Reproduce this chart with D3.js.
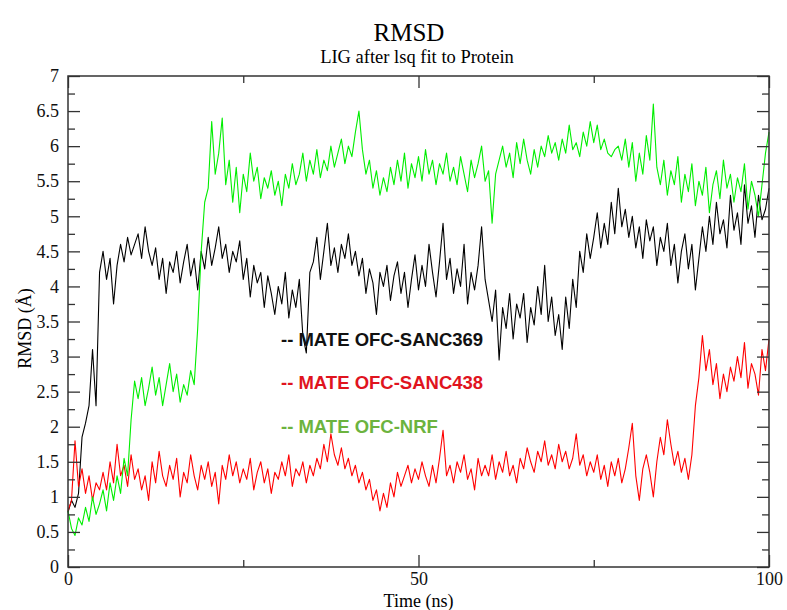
<!DOCTYPE html>
<html>
<head>
<meta charset="utf-8">
<script src="https://cdn.jsdelivr.net/npm/d3@7"></script>
<style>
  body { margin: 0; background: #fff; }
  svg { display: block; }
  .tick text { font-family: "Liberation Serif", "Times New Roman", serif; font-size: 18px; fill: #111; }
  .tick line { stroke: #333; stroke-width: 1.3; }
</style>
</head>
<body>
<svg class="rmsd"></svg>
<script>
// RMSD of ligand, one sample every 0.5 ns (0 .. 100 ns)
var timeStep = 0.5;

var sanc369 = [
    0.78, 0.95, 0.85, 1.05, 1.85, 2.05, 2.3, 3.1, 2.3, 4.2,
    4.5, 4.1, 4.4, 3.75, 4.3, 4.6, 4.35, 4.7, 4.45, 4.6,
    4.75, 4.4, 4.85, 4.5, 4.3, 4.55, 4.1, 4.4, 3.9, 4.35,
    4.2, 4.5, 4.05, 4.35, 4.6, 4.15, 4.4, 3.95, 4.5, 4.25,
    4.7, 4.3, 4.55, 4.85, 4.4, 4.6, 4.2, 4.5, 4.35, 4.65,
    4.1, 4.4, 3.85, 4.3, 4.05, 4.2, 3.7, 4.15, 3.9, 3.6,
    4.0, 3.75, 4.2, 3.55, 3.95, 3.7, 4.1, 3.3, 3.05, 4.2,
    4.35, 4.7, 4.1, 4.5, 4.9, 4.3, 4.55, 4.2, 4.6, 4.4,
    4.75, 4.3, 4.5, 4.15, 4.4, 3.9, 4.25, 4.05, 3.6, 4.2,
    4.0, 4.3, 3.8, 4.15, 4.35, 3.9, 4.2, 3.7, 4.1, 4.45,
    3.95, 4.3, 4.0, 4.6, 4.2, 3.85, 4.35, 4.9, 4.1, 4.4,
    3.9, 4.25, 4.0, 4.6, 3.75, 4.2, 3.95, 4.3, 4.85, 4.1,
    3.8, 3.5, 3.95, 2.95, 3.7, 3.4, 3.9, 3.25, 3.75, 3.55,
    3.9, 3.2, 3.7, 3.45, 4.0, 3.6, 4.3, 3.5, 3.85, 3.3,
    3.6, 3.1, 3.85, 3.4, 4.1, 3.7, 4.5, 4.2, 4.75, 4.4,
    4.7, 5.05, 4.55, 4.9, 4.6, 5.2, 4.75, 5.4, 4.85, 5.1,
    4.7, 5.0, 4.55, 4.85, 4.4, 4.95, 4.65, 4.85, 4.3, 4.7,
    4.5, 4.9, 4.3, 4.6, 4.05, 4.5, 4.75, 4.25, 4.6, 3.95,
    4.4, 4.85, 4.5, 5.0, 4.6, 5.2, 4.75, 4.95, 4.55, 5.3,
    4.8, 5.05, 4.6, 5.45, 4.9, 5.15, 4.7, 5.3, 4.95, 5.1, 5.4
];

var sanc438 = [
    0.8, 0.95, 1.8, 1.15, 1.4, 1.05, 1.3, 0.95, 1.2, 1.1,
    1.35, 1.1, 1.5, 1.2, 1.75, 1.3, 1.45, 1.15, 1.6, 1.25,
    1.4, 1.1, 1.3, 0.95, 1.5, 1.2, 1.65, 1.3, 1.15, 1.45,
    1.25, 1.55, 1.0, 1.35, 1.2, 1.6, 1.3, 1.1, 1.45, 1.25,
    1.5, 1.15, 1.35, 0.9, 1.45, 1.25, 1.6, 1.3, 1.5, 1.2,
    1.4, 1.25, 1.55, 1.1, 1.35, 1.5, 1.2, 1.4, 1.05, 1.35,
    1.25, 1.5, 1.3, 1.6, 1.15, 1.4, 1.3, 1.5, 1.2, 1.45,
    1.3, 1.55, 1.4, 1.75, 1.5, 1.9, 1.6, 1.45, 1.7, 1.4,
    1.55, 1.3, 1.45, 1.2, 1.35, 1.1, 1.25, 0.95, 1.1, 0.8,
    1.05, 0.85, 1.2, 1.0, 1.35, 1.15, 1.3, 1.45, 1.2, 1.4,
    1.25, 1.5, 1.3, 1.15, 1.45, 1.2, 1.55, 1.95, 1.3, 1.45,
    1.2, 1.5, 1.35, 1.6, 1.25, 1.4, 1.1, 1.55, 1.3, 1.45,
    1.3, 1.6, 1.25, 1.5, 1.35, 1.65, 1.3, 1.45, 1.2, 1.55,
    1.4, 1.7, 1.5, 1.35, 1.65, 1.5, 1.8, 1.45, 1.6, 1.4,
    1.75, 1.5, 1.65, 1.4, 1.55, 1.9, 1.45, 1.6, 1.3, 1.5,
    1.35, 1.6, 1.25, 1.45, 1.15, 1.5, 1.3, 1.55, 1.2, 1.4,
    1.7, 2.05, 1.3, 0.95, 1.4, 1.6, 1.35, 1.0, 1.5, 1.85,
    1.6, 2.1, 1.75, 1.45, 1.65, 1.35, 1.55, 1.25, 1.6, 2.3,
    2.7, 3.3, 2.8, 3.1, 2.6, 2.9, 2.4, 2.75, 2.5, 2.85,
    2.65, 3.0, 2.7, 3.2, 2.55, 2.9, 2.75, 2.45, 3.1, 2.8, 3.25
];

var nrf = [
    0.8, 0.55, 0.45, 0.7, 0.6, 0.85, 0.65, 1.0, 0.75, 0.9,
    1.1, 0.8, 1.2, 0.95, 1.3, 1.05, 1.55, 1.3, 2.1, 2.65,
    2.4, 2.7, 2.3, 2.55, 2.85, 2.45, 2.7, 2.3, 2.6, 2.9,
    2.5, 2.75, 2.35, 2.6, 2.45, 2.8, 2.6, 3.4, 4.5, 5.2,
    5.4, 6.35, 5.6, 5.9, 6.4, 5.45, 5.8, 5.2, 5.7, 5.05,
    5.6, 5.35, 5.9, 5.5, 5.7, 5.25, 5.55, 5.4, 5.65, 5.3,
    5.5, 5.15, 5.6, 5.4, 5.75, 5.45, 5.6, 5.9, 5.5, 5.8,
    5.6, 5.95, 5.55, 5.8, 5.65, 6.0, 5.7, 5.9, 6.1, 5.75,
    6.0, 5.85, 6.2, 6.5, 5.95, 5.6, 5.8, 5.4, 5.65, 5.3,
    5.55, 5.35, 5.7, 5.45, 5.8, 5.5, 5.9, 5.4, 5.75, 5.55,
    5.85, 5.5, 5.95, 5.6, 5.8, 5.45, 5.75, 5.6, 5.9, 5.5,
    5.7, 5.45, 5.85, 5.6, 5.35, 5.8, 5.55, 5.75, 6.0, 5.5,
    5.65, 4.9, 5.6, 5.8, 6.0, 5.7, 5.9, 5.55, 6.05, 5.75,
    6.1, 5.8, 5.6, 5.95, 5.7, 6.0, 5.85, 6.15, 5.9, 6.05,
    5.8, 6.1, 5.9, 6.3, 5.95, 6.05, 5.85, 6.2, 6.0, 6.35,
    6.05, 6.3, 5.95, 6.1, 5.9, 5.85, 5.95, 6.0, 5.8, 6.1,
    5.7, 6.05, 5.5, 5.9, 5.6, 6.15, 5.8, 6.6, 5.7, 5.45,
    5.8, 5.3, 5.65, 5.45, 5.85, 5.2, 5.6, 5.35, 5.75, 5.15,
    5.5, 5.3, 5.7, 5.05, 5.45, 5.65, 5.25, 5.8, 5.4, 5.6,
    5.2, 5.55, 5.35, 5.75, 5.1, 5.5, 5.3, 5.0, 5.45, 5.9, 6.2
];

var seriesNames = ['-- MATE OFC-SANC369', '-- MATE OFC-SANC438', '-- MATE OFC-NRF'];
var xMajor = [0, 50, 100];
var xMinor = [25, 75];
var yMajor = [0, 0.5, 1, 1.5, 2, 2.5, 3, 3.5, 4, 4.5, 5, 5.5, 6, 6.5, 7];
var yMinor = [0.25, 0.75, 1.25, 1.75, 2.25, 2.75, 3.25, 3.75, 4.25, 4.75, 5.25, 5.75, 6.25, 6.75];

var width = 787,
    height = 610;
var plotLeft = 68, plotRight = 769, plotTop = 76, plotBottom = 567;

var svg = d3.select('.rmsd').attr('width', width).attr('height', height);

var x = d3.scaleLinear().domain([0, 100]).range([plotLeft, plotRight]);
var y = d3.scaleLinear().domain([0, 7]).range([plotBottom, plotTop]);

// titles
svg.append('text')
    .attr('x', 409).attr('y', 41)
    .attr('text-anchor', 'middle')
    .style('font-family', '"Liberation Serif", serif')
    .style('font-size', '25px')
    .text('RMSD');

svg.append('text')
    .attr('x', 417).attr('y', 63)
    .attr('text-anchor', 'middle')
    .style('font-family', '"Liberation Serif", serif')
    .style('font-size', '18.5px')
    .text('LIG after lsq fit to Protein');

// data lines: black, red, green
var line = d3.line()
    .x(function(d, i) { return x(i * timeStep); })
    .y(function(d) { return y(d); });

var allSeries = [sanc369, sanc438, nrf];
var lineColors = ['#000000', '#ff0000', '#00ee00'];
for (var s = 0; s < allSeries.length; s++) {
    svg.append('path')
        .datum(allSeries[s])
        .attr('fill', 'none')
        .attr('stroke', lineColors[s])
        .attr('stroke-width', 1.1)
        .attr('stroke-linejoin', 'round')
        .attr('d', line);
}

// axes, all ticks pointing inwards
function addAxis(axis, tx, ty, labels) {
    var g = svg.append('g').attr('transform', 'translate(' + tx + ',' + ty + ')').call(axis);
    g.select('.domain').remove();
    if (!labels) g.selectAll('text').remove();
    return g;
}

addAxis(d3.axisBottom(x).tickValues(xMajor).tickSize(-12).tickPadding(5).tickFormat(d3.format('d')), 0, plotBottom, true);
addAxis(d3.axisBottom(x).tickValues(xMinor).tickSize(-7), 0, plotBottom, false);
addAxis(d3.axisTop(x).tickValues(xMajor).tickSize(-12), 0, plotTop, false);
addAxis(d3.axisTop(x).tickValues(xMinor).tickSize(-7), 0, plotTop, false);
addAxis(d3.axisLeft(y).tickValues(yMajor).tickSize(-12).tickPadding(9).tickFormat(d3.format('')), plotLeft, 0, true);
addAxis(d3.axisLeft(y).tickValues(yMinor).tickSize(-7), plotLeft, 0, false);
addAxis(d3.axisRight(y).tickValues(yMajor).tickSize(-12), plotRight, 0, false);
addAxis(d3.axisRight(y).tickValues(yMinor).tickSize(-7), plotRight, 0, false);

// frame
svg.append('rect')
    .attr('x', plotLeft).attr('y', plotTop)
    .attr('width', plotRight - plotLeft).attr('height', plotBottom - plotTop)
    .attr('fill', 'none')
    .attr('stroke', '#333')
    .attr('stroke-width', 1.5);

// axis titles
svg.append('text')
    .attr('x', x(50)).attr('y', 607)
    .attr('text-anchor', 'middle')
    .style('font-family', '"Liberation Serif", serif')
    .style('font-size', '18px')
    .text('Time (ns)');

svg.append('text')
    .attr('transform', 'translate(31,' + y(3.4) + ') rotate(-90)')
    .attr('text-anchor', 'middle')
    .style('font-family', '"Liberation Serif", serif')
    .style('font-size', '18px')
    .text('RMSD (Å)');

// legend pasted over the plot
var legendColors = ['#111111', '#e0141e', '#6cb33e'];
var legendY = [346, 389, 433];
for (var k = 0; k < seriesNames.length; k++) {
    svg.append('text')
        .attr('x', 281).attr('y', legendY[k])
        .style('font-family', '"Liberation Sans", Arial, sans-serif')
        .style('font-weight', 'bold')
        .style('font-size', '18.5px')
        .attr('fill', legendColors[k])
        .text(seriesNames[k]);
}
</script>
</body>
</html>
